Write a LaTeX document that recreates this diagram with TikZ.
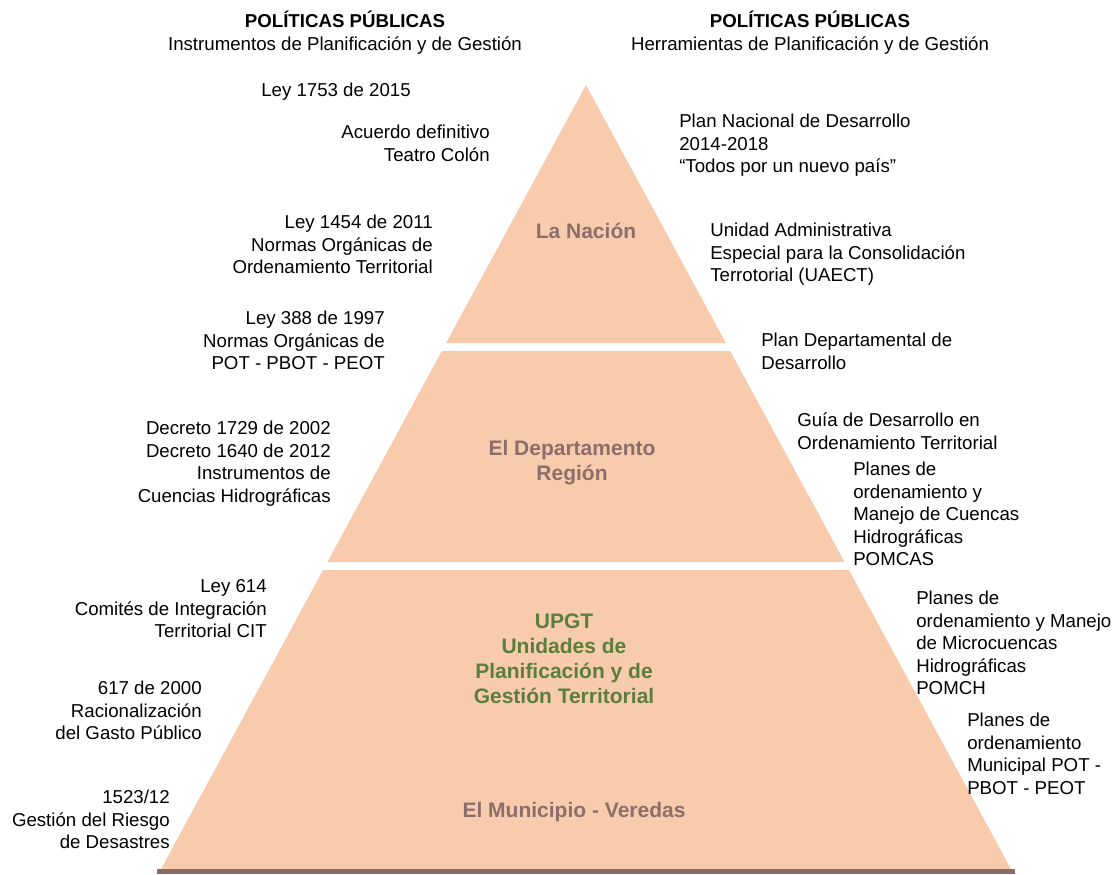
\documentclass[tikz,border=0pt]{standalone}
\usepackage{fontspec}
\setmainfont{Liberation Sans}
\definecolor{peach}{HTML}{F8CBAD}
\definecolor{labbrown}{HTML}{8C6E6B}
\definecolor{labgreen}{HTML}{5B7F3A}
\definecolor{basebrown}{HTML}{8A6B68}
\tikzset{
  bodytext/.style={inner sep=0pt, font=\fontsize{14}{16.8}\selectfont},
  lblock/.style={bodytext, align=right, anchor=north east},
  rblock/.style={bodytext, align=left, anchor=north west},
  headblock/.style={bodytext, align=center, anchor=north},
  tierlabel/.style={inner sep=0pt, align=center, anchor=north, text=labbrown,
    font=\fontsize{15.75}{18.75}\selectfont\bfseries},
  tierfill/.style={fill=peach, draw=none},
}
\begin{document}
\begin{tikzpicture}[x=0.75pt,y=-0.75pt]
\useasboundingbox (0,0) rectangle (1112,874);
% pyramid tiers
\fill[tierfill] (586,85) -- (725.9,343) -- (446.1,343) -- cycle;
\fill[tierfill] (441.8,351) -- (730.2,351) -- (844.6,562) -- (327.4,562) -- cycle;
\fill[tierfill] (323.1,570) -- (848.9,570) -- (1011,869) -- (161,869) -- cycle;
\fill[basebrown] (157,869) rectangle (1015,874);
% headers
\node[headblock] (hl) at (345,12) {\strut\smash{\textbf{POLÍTICAS PÚBLICAS}}\\Instrumentos de Planificación y de Gestión};
\node[headblock] (hr) at (810,12) {\strut\smash{\textbf{POLÍTICAS PÚBLICAS}}\\Herramientas de Planificación y de Gestión};
% tier labels
\node[tierlabel] (nacion) at (586,221) {\strut La Nación};
\node[tierlabel] (depto) at (572,438) {\strut El Departamento\\Región};
\node[tierlabel, text=labgreen] (upgt) at (564,611) {\strut UPGT\\Unidades de\\Planificación y de\\Gestión Territorial};
\node[tierlabel] (muni) at (574,800) {\strut El Municipio - Veredas};
% left column
\node[lblock] (l1) at (411,81) {\strut Ley 1753 de 2015};
\node[lblock] (l2) at (490,123) {\strut Acuerdo definitivo\\Teatro Colón};
\node[lblock] (l3) at (433,213) {\strut Ley 1454 de 2011\\Normas Orgánicas de\\Ordenamiento Territorial};
\node[lblock] (l4) at (385,309) {\strut Ley 388 de 1997\\Normas Orgánicas de\\POT - PBOT - PEOT};
\node[lblock] (l5) at (331,419) {\strut Decreto 1729 de 2002\\Decreto 1640 de 2012\\Instrumentos de\\Cuencias Hidrográficas};
\node[lblock] (l6) at (267,577) {\strut Ley 614\\Comités de Integración\\Territorial CIT};
\node[lblock] (l7) at (202,679) {\strut 617 de 2000\\Racionalización\\del Gasto Público};
\node[lblock] (l8) at (170,788) {\strut 1523/12\\Gestión del Riesgo\\de Desastres};
% right column
\node[rblock] (r1) at (679,112) {\strut Plan Nacional de Desarrollo\\2014-2018\\“Todos por un nuevo país”};
\node[rblock] (r2) at (710,221) {\strut Unidad Administrativa\\Especial para la Consolidación\\Terrotorial (UAECT)};
\node[rblock] (r3) at (761,331) {\strut Plan Departamental de\\Desarrollo};
\node[rblock] (r4) at (797,411) {\strut Guía de Desarrollo en\\Ordenamiento Territorial};
\node[rblock] (r5) at (853,460) {\strut Planes de\\ordenamiento y\\Manejo de Cuencas\\Hidrográficas\\POMCAS};
\node[rblock] (r6) at (916,589) {\strut Planes de\\ordenamiento y Manejo\\de Microcuencas\\Hidrográficas\\POMCH};
\node[rblock] (r7) at (967,711) {\strut Planes de\\ordenamiento\\Municipal POT -\\PBOT - PEOT};
\end{tikzpicture}
\end{document}
